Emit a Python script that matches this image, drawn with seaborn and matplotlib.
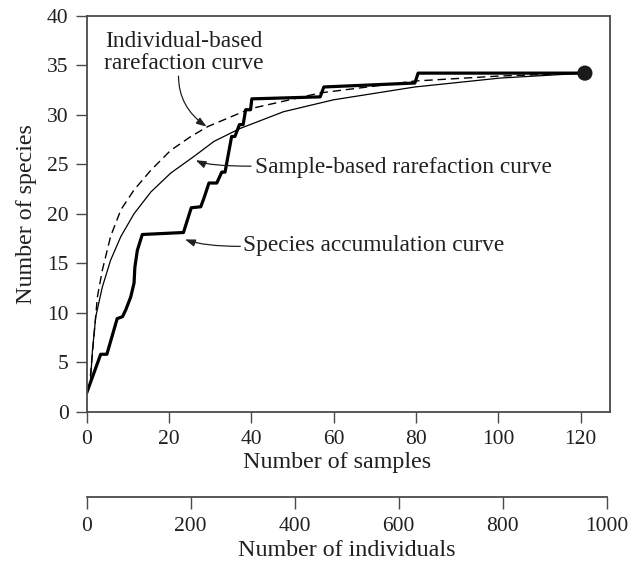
import matplotlib
matplotlib.use('Agg')
import matplotlib.pyplot as plt
import seaborn as sns
import pandas as pd

# species accumulation curve (thick stepped line)
acc_x = [0, 3.4, 4.9, 7.4, 8.7, 9.5, 10.7, 11.5, 11.7, 12.3, 13.5, 23.5, 25.4, 27.7, 28.5, 29.7,
         31.6, 32.8, 33.6, 35.2, 36.0, 37.1, 38.0, 38.6, 39.8, 40.1, 56.7, 57.6, 79.7, 80.5, 121]
acc_y = [1.9, 5.8, 5.8, 9.4, 9.6, 10.3, 11.6, 13.0, 14.6, 16.3, 17.9, 18.1, 20.6, 20.7, 21.6, 23.1,
         23.1, 24.2, 24.2, 27.8, 27.8, 29.0, 29.0, 30.5, 30.5, 31.6, 31.8, 32.8, 33.2, 34.2, 34.2]
# individual-based rarefaction curve (dashed)
ind_x = [0.9, 1.6, 2.6, 3.8, 5.8, 8.3, 11.5, 15.6, 20.4, 25.3, 29.4, 39.7, 56.7, 79.7, 100, 121]
ind_y = [3.6, 6.9, 11.6, 14.3, 17.7, 20.4, 22.4, 24.4, 26.4, 27.8, 28.8, 30.6, 32.2, 33.4, 33.9, 34.2]
# sample-based rarefaction curve (thin solid)
smp_x = [0.9, 1.4, 2.2, 3.8, 5.8, 8.3, 11.5, 15.6, 20.4, 26.1, 30.9, 37.2, 47.8, 59.9, 79.7, 100.4, 121]
smp_y = [3.0, 6.2, 9.6, 12.6, 15.3, 17.7, 20.0, 22.2, 24.1, 25.8, 27.3, 28.6, 30.3, 31.5, 32.8, 33.7, 34.2]
end_pt = (121, 34.2)

sample_ticks = [0, 20, 40, 60, 80, 100, 120]
species_ticks = [0, 5, 10, 15, 20, 25, 30, 35, 40]
indiv_ticks = [0, 200, 400, 600, 800, 1000]

sns.set_theme(style='ticks')
plt.rcParams['font.family'] = ['Liberation Serif', 'DejaVu Serif']
TXT = '#231f20'; SP = '#4a4a4a'
FS = 15.5   # tick labels
LS = 17.3   # axis labels
AS = 16.8   # annotations

fig = plt.figure(figsize=(6.37, 5.64), dpi=100)
ax = fig.add_axes([86.7/637, 1-411.7/564, (610-86.7)/637, (411.7-15.7)/564])

sns.lineplot(x=ind_x, y=ind_y, ax=ax, color='black', lw=1.0, sort=False, estimator=None,
             linestyle=(0, (6, 3.5)))
sns.lineplot(x=smp_x, y=smp_y, ax=ax, color='black', lw=0.9, sort=False, estimator=None)
sns.lineplot(x=acc_x, y=acc_y, ax=ax, color='black', lw=2.3, sort=False, estimator=None)
sns.scatterplot(x=[end_pt[0]], y=[end_pt[1]], ax=ax, color='#1a1a1a', s=120, edgecolor='none', zorder=5)

ax.set_xlim(0, 127.1); ax.set_ylim(0, 40)
ax.set_xticks(sample_ticks); ax.set_yticks(species_ticks)
ax.tick_params(direction='out', length=8, width=1, color=SP, labelsize=FS, labelcolor=TXT, pad=5)
for sp in ax.spines.values():
    sp.set_color(SP); sp.set_linewidth(1.3); sp.set_visible(True)
ax.set_xlabel('Number of samples', fontsize=LS, color=TXT, labelpad=2)
ax.xaxis.label.set_x(0.478)
ax.set_ylabel('Number of species', fontsize=LS, color=TXT, labelpad=7)

ap = dict(arrowstyle='-|>,head_length=0.5,head_width=0.18', color=TXT, lw=0.9,
          shrinkA=0, shrinkB=0, mutation_scale=12)
ax.text(23.6, 36.3, 'Individual-based\nrarefaction curve', ha='center', va='center',
        fontsize=AS, color=TXT, linespacing=1.1)
ax.annotate('', xy=(29.1, 28.8), xytext=(22.3, 33.9),
            arrowprops=dict(ap, connectionstyle='angle3,angleA=90,angleB=145'))
ax.text(40.9, 24.7, 'Sample-based rarefaction curve', ha='left', va='center', fontsize=AS, color=TXT)
ax.annotate('', xy=(26.5, 25.4), xytext=(39.9, 24.8),
            arrowprops=dict(ap, connectionstyle='angle3,angleA=0,angleB=-25'))
ax.text(38.0, 16.8, 'Species accumulation curve', ha='left', va='center', fontsize=AS, color=TXT)
ax.annotate('', xy=(23.9, 17.4), xytext=(37.3, 16.7),
            arrowprops=dict(ap, connectionstyle='angle3,angleA=0,angleB=-20'))

# second scale: individuals
ax2 = fig.add_axes([86.7/637, 1-497/564, (606.7-86.7)/637, 0.0001])
ax2.patch.set_visible(False)
for s in ['top', 'left', 'right']:
    ax2.spines[s].set_visible(False)
ax2.spines['bottom'].set_color(SP); ax2.spines['bottom'].set_linewidth(1.3)
ax2.set_xlim(0, 1000); ax2.set_yticks([])
ax2.set_xticks(indiv_ticks)
ax2.tick_params(direction='out', length=8.5, width=1, color=SP, labelsize=FS, labelcolor=TXT, pad=6)
ax2.set_xlabel('Number of individuals', fontsize=LS, color=TXT, labelpad=3)

fig.savefig('out.png', dpi=100, facecolor='white')
